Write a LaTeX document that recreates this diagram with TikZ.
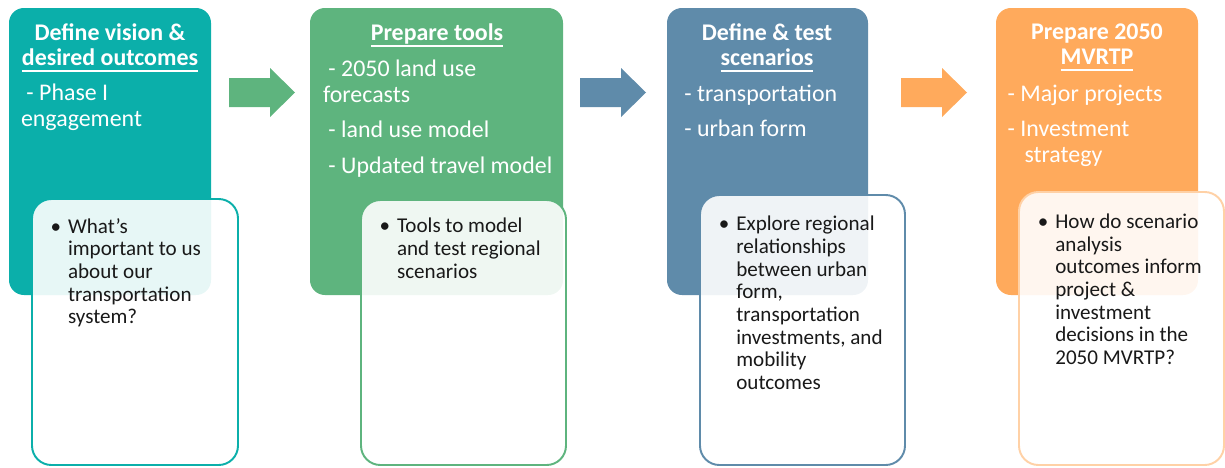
\documentclass[tikz,border=0pt]{standalone}
\usepackage{fontspec}
\setmainfont{Carlito}
\usetikzlibrary{fit}

\definecolor{visteal}{HTML}{0BAFAA}
\definecolor{toolgreen}{HTML}{5EB47E}
\definecolor{scenblue}{HTML}{5F8BAA}
\definecolor{planorange}{HTML}{FFAA5C}
\definecolor{paleorange}{HTML}{FFD1A6}

\newcommand\headfont{\fontsize{13.6}{14.6}\selectfont\bfseries}
\newcommand\itemfont{\fontsize{13.6}{14.6}\selectfont}
\newcommand\bulfont{\fontsize{12}{12.9}\selectfont}
\newcommand\bul{\llap{\textbullet\hspace{4pt}}}
\newsavebox\ulbox
\newcommand\uln[1]{\sbox\ulbox{#1}\rlap{\rule[-3.7pt]{\wd\ulbox}{1.1pt}}\usebox\ulbox}

\tikzset{
  topbox/.style={rounded corners=8.5pt, inner sep=0pt},
  subbox/.style={rounded corners=11pt, inner sep=0pt, line width=1.1pt,
    fill=white, fill opacity=0.9},
  headtxt/.style={text=white, font=\headfont, align=center, inner sep=0pt, anchor=north},
  itemtxt/.style={text=white, font=\itemfont, align=left, inner sep=0pt, anchor=north west},
  bultxt/.style={text=black!90, font=\bulfont, align=left, inner sep=0pt, anchor=north west},
}

\begin{document}
\begin{tikzpicture}[x=0.02cm, y=-0.02cm]
\useasboundingbox (0,0) rectangle (1225,467);

%BOXES
%Step 1 Vision
\node [topbox, fill=visteal, fit={(9,8) (211,295)}] (vis) {};
\node [headtxt] (vishead) at (110,23) {Define vision \&\\\uln{desired outcomes}};
\node [itemtxt] (visitems) at (20.7,83.6) {\ - Phase I\\engagement};
\node [subbox, draw=visteal, fit={(32,199) (238,465)}] (vissub) {};
\node [bultxt] (visbul) at (67.7,218) {\bul What’s\\important to us\\about our\\transportation\\system?};

%Step 2 Tools
\node [topbox, fill=toolgreen, fit={(310,8) (563,295)}] (tools) {};
\node [headtxt] (toolshead) at (437,23) {\uln{Prepare tools}};
\node [itemtxt] (toolsitems) at (322.7,59.6)
  {\ - 2050 land use\\forecasts\\[5.6pt]\ - land use model\\[5.6pt]\ - Updated travel model};
\node [subbox, draw=toolgreen, fit={(361,200) (566,465)}] (toolssub) {};
\node [bultxt] (toolsbul) at (396.7,218) {\bul Tools to model\\and test regional\\scenarios};

%Step 3 Scenarios
\node [topbox, fill=scenblue, fit={(667,8) (868,295)}] (scen) {};
\node [headtxt] (scenhead) at (767,23) {Define \& test\\\uln{scenarios}};
\node [itemtxt] (scenitems) at (684,84.5) {- transportation\\[5.6pt]- urban form};
\node [subbox, draw=scenblue, fit={(700,195) (905,465)}] (scensub) {};
\node [bultxt] (scenbul) at (736,216)
  {\bul Explore regional\\relationships\\between urban\\form,\\transportation\\investments, and\\mobility\\outcomes};

%Step 4 Plan
\node [topbox, fill=planorange, fit={(996,8) (1198,295)}] (plan) {};
\node [headtxt] (planhead) at (1097,23) {Prepare 2050\\\uln{MVRTP}};
\node [itemtxt] (planitems) at (1007.3,84.5)
  {- Major projects\\[5.6pt]- Investment\\\hspace{9.6pt}strategy};
\node [subbox, draw=paleorange, fit={(1019,192) (1224,465)}] (plansub) {};
\node [bultxt] (planbul) at (1055,213.5)
  {\bul How do scenario\\analysis\\outcomes inform\\project \&\\investment\\decisions in the\\2050 MVRTP?};

%Arrows
\foreach \x/\c in {229/toolgreen,580/scenblue,901/planorange}
{
\fill [\c] (\x,78) -- ++(41,0) -- ++(0,-10) -- ++(25,24.5) -- ++(-25,24.5) -- ++(0,-10) -- ++(-41,0) -- cycle;
}

\end{tikzpicture}
\end{document}
